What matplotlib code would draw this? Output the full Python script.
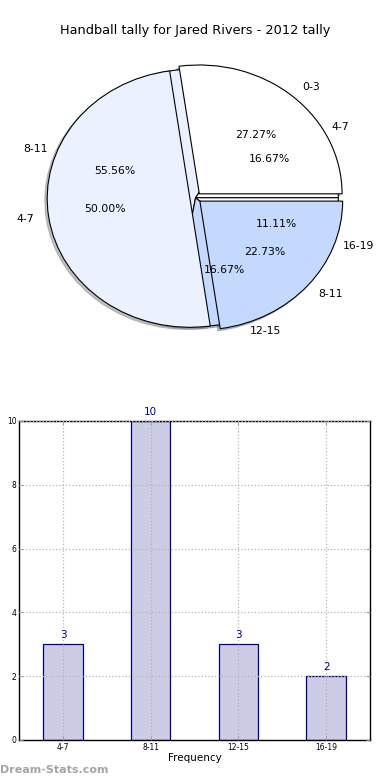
import matplotlib
matplotlib.use('Agg')
import matplotlib.pyplot as plt

matplotlib.rcParams['font.family'] = ['DejaVu Sans']

TITLE = 'Handball tally for Jared Rivers - 2012 tally'

# pie drawn underneath
UNDER_LABELS = ['4-7', '8-11', '12-15', '16-19']
UNDER_VALUES = [3, 10, 3, 2]

# pie drawn on top
TOP_LABELS = ['0-3', '4-7', '8-11']
TOP_VALUES = [6, 11, 5]

# bar chart
BAR_LABELS = ['4-7', '8-11', '12-15', '16-19']
BAR_VALUES = [3, 10, 3, 2]

PIE_COLORS = ['#ffffff', '#ebf1fe', '#c5d9ff', '#ffffff']
BAR_FACE = '#ccccе5'.replace('е', 'e')
BAR_EDGE = '#00008b'

fig = plt.figure(figsize=(3.9, 7.8), dpi=100)

# ---- pie part ----
shadow = {'ox': -0.012, 'oy': -0.012, 'shade': 0.45}
ax1 = fig.add_axes([0.044, 0.540, 0.915, 0.413])
ax1.pie(UNDER_VALUES, labels=UNDER_LABELS, colors=PIE_COLORS,
        autopct='%.2f%%', shadow=shadow,
        wedgeprops={'edgecolor': 'black', 'linewidth': 0.8},
        textprops={'fontsize': 7.8})
ax1.pie(TOP_VALUES, labels=TOP_LABELS, colors=PIE_COLORS[:3],
        autopct='%.2f%%', shadow=shadow, explode=[0.04, 0.04, 0.04],
        wedgeprops={'edgecolor': 'black', 'linewidth': 0.8},
        textprops={'fontsize': 7.8})
ax1.set_aspect('auto')
ax1.set_xlim(-1.25, 1.25)
ax1.set_ylim(-1.25, 1.25)

fig.text(0.5, 0.961, TITLE, ha='center', va='center', fontsize=9.3)

# ---- bar part ----
ax2 = fig.add_axes([0.049, 0.0513, 0.9, 0.409])
xs = list(range(len(BAR_VALUES)))
ax2.bar(xs, BAR_VALUES, width=0.45, color=BAR_FACE, edgecolor=BAR_EDGE,
        linewidth=0.9, zorder=1)
for x, v in zip(xs, BAR_VALUES):
    ax2.text(x, v + 0.12, str(v), ha='center', va='bottom',
             fontsize=7.5, color=BAR_EDGE)
ax2.set_xlim(-0.5, 3.5)
ax2.set_ylim(0, 10)
ax2.set_xticks(xs)
ax2.set_xticklabels(BAR_LABELS, fontsize=5.5)
ax2.set_yticks([0, 2, 4, 6, 8, 10])
ax2.tick_params(axis='y', labelsize=5.5, pad=2)
ax2.tick_params(axis='x', pad=2)
ax2.tick_params(direction='in', top=True, right=True, length=3, width=0.6,
                color='#999999')
ax2.set_axisbelow(False)
ax2.grid(True, linestyle=':', color='#b5b5b5', linewidth=0.9, zorder=2)
for s in ax2.spines.values():
    s.set_linewidth(1.0)
ax2.set_xlabel('Frequency', fontsize=7.5, labelpad=1)

fig.text(-0.009, 0.256, 'Goals Per Match', rotation=90, ha='center',
         va='center', fontsize=7)
fig.text(0.0, 0.013, 'Dream-Stats.com', ha='left', va='center',
         fontsize=8, color='#a5a5a5', fontweight='bold')

fig.savefig('out.png', dpi=100)
